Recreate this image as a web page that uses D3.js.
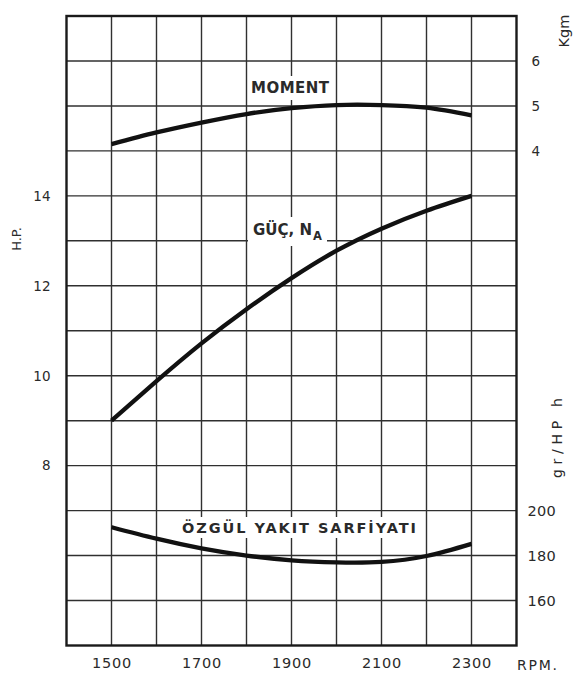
<!DOCTYPE html>
<html>
<head>
<meta charset="utf-8">
<script src="https://cdn.jsdelivr.net/npm/d3@7"></script>
<style>
  html, body { margin: 0; padding: 0; background: #fff; }
  svg { display: block; }
  text { font-family: "DejaVu Sans", sans-serif; fill: #2a2a2a; }
</style>
</head>
<body>
<svg id="chart" width="573" height="675"></svg>
<script>
// ---- data ----
const rpm = [1500, 1600, 1700, 1800, 1900, 2000, 2100, 2200, 2300];
const moment = [4.15, 4.41, 4.63, 4.82, 4.95, 5.02, 5.02, 4.96, 4.79];      // Kgm
const power = [9.0, 9.88, 10.72, 11.48, 12.17, 12.78, 13.27, 13.67, 14.0];  // HP
const fuel = [192.6, 187.5, 183.2, 180.0, 177.9, 177.0, 177.2, 179.8, 185.2]; // gr/HPh

const rpmTicks = [1500, 1700, 1900, 2100, 2300];
const hpTicks = [8, 10, 12, 14];
const kgmTicks = [4, 5, 6];
const fuelTicks = [160, 180, 200];

const svg = d3.select("#chart");
const L = 66.5, R = 516.5, T = 16, B = 645.5;

const x = d3.scaleLinear().domain([1400, 2400]).range([L, R]);
const yHP = d3.scaleLinear().domain([4, 18]).range([B, T]);
const yKgm = d3.scaleLinear().domain([-7, 7]).range([B, T]);
const yFuel = d3.scaleLinear().domain([140, 420]).range([B, T]);

// ---- grid ----
const grid = svg.append("g").attr("stroke", "#303030").attr("stroke-width", 1.4);
grid.selectAll("line.v").data(d3.range(1500, 2400, 100)).join("line")
  .attr("x1", d => x(d)).attr("x2", d => x(d)).attr("y1", T).attr("y2", B);
grid.selectAll("line.h").data(d3.range(5, 18, 1)).join("line")
  .attr("x1", L).attr("x2", R).attr("y1", d => yHP(d)).attr("y2", d => yHP(d));
svg.append("rect").attr("x", L).attr("y", T).attr("width", R - L).attr("height", B - T)
  .attr("fill", "none").attr("stroke", "#1a1a1a").attr("stroke-width", 2.4);

// ---- axes ----
function styleAxis(g, size) {
  g.select(".domain").remove();
  g.selectAll(".tick line").remove();
  g.selectAll("text").attr("font-size", size).attr("fill", "#2a2a2a")
    .style("font-family", "DejaVu Sans, sans-serif");
}
svg.append("g").attr("transform", `translate(${L},0)`)
  .call(d3.axisLeft(yHP).tickValues(hpTicks).tickSize(0).tickPadding(16))
  .call(g => styleAxis(g, 13.5));
svg.append("g").attr("transform", `translate(0,${B})`)
  .call(d3.axisBottom(x).tickValues(rpmTicks).tickSize(0).tickPadding(12).tickFormat(d3.format("d")))
  .call(g => styleAxis(g, 14.5))
  .call(g => g.selectAll("text").attr("letter-spacing", 0.8));
svg.append("g").attr("transform", `translate(${R},0)`)
  .call(d3.axisRight(yKgm).tickValues(kgmTicks).tickSize(0).tickPadding(15))
  .call(g => styleAxis(g, 13.5));
svg.append("g").attr("transform", `translate(${R},0)`)
  .call(d3.axisRight(yFuel).tickValues(fuelTicks).tickSize(0).tickPadding(11))
  .call(g => styleAxis(g, 14.5))
  .call(g => g.selectAll("text").attr("letter-spacing", 0.3));

// axis titles
svg.append("text").attr("transform", "translate(21,239) rotate(-90)")
  .attr("text-anchor", "middle").attr("font-size", 13).text("H.P.");
svg.append("text").attr("transform", "translate(569,31) rotate(-90)")
  .attr("text-anchor", "middle").attr("font-size", 14.5).text("Kgm");
svg.append("text").attr("transform", "translate(562,438) rotate(-90)")
  .attr("text-anchor", "middle").attr("font-size", 14)
  .attr("textLength", 80).attr("lengthAdjust", "spacing").text("gr/HP h");
svg.append("text").attr("x", 517).attr("y", 670).attr("font-size", 14)
  .attr("textLength", 40).attr("lengthAdjust", "spacing").text("RPM.");

// ---- curve labels with white backing ----
const labels = svg.append("g");
function boxed(el, padX, padY) {
  const bb = el.node().getBBox();
  labels.insert("rect", ":first-child")
    .attr("x", bb.x - padX).attr("y", bb.y - padY)
    .attr("width", bb.width + 2 * padX).attr("height", bb.height + 2 * padY)
    .attr("fill", "#fff");
}
const tMoment = labels.append("text").attr("x", 251).attr("y", 93)
  .attr("font-size", 15).attr("font-weight", 600)
  .attr("textLength", 78).attr("lengthAdjust", "spacing").text("MOMENT");
boxed(tMoment, 3, 3);

const tPower = labels.append("text").attr("x", 253).attr("y", 235)
  .attr("font-size", 15).attr("font-weight", 600);
tPower.append("tspan").attr("textLength", 59).attr("lengthAdjust", "spacing").text("GÜÇ, N");
tPower.append("tspan").attr("font-size", 11.5).attr("dy", 5).attr("dx", 1).text("A");
boxed(tPower, 5, 3);

const tFuel = labels.append("text").attr("x", 182).attr("y", 533)
  .attr("font-size", 14.5).attr("font-weight", 600)
  .attr("textLength", 234).attr("lengthAdjust", "spacing").text("ÖZGÜL YAKIT SARFİYATI");
boxed(tFuel, 3, 2);

// ---- curves ----
const curves = svg.append("g").attr("fill", "none").attr("stroke", "#111")
  .attr("stroke-width", 4.3).attr("stroke-linecap", "butt").attr("stroke-linejoin", "round");
const mk = (ys, yScale) => d3.line().x((d, i) => x(rpm[i])).y(d => yScale(d)).curve(d3.curveNatural)(ys);
curves.append("path").attr("d", mk(moment, yKgm));
curves.append("path").attr("d", mk(power, yHP));
curves.append("path").attr("d", mk(fuel, yFuel));
</script>
</body>
</html>
